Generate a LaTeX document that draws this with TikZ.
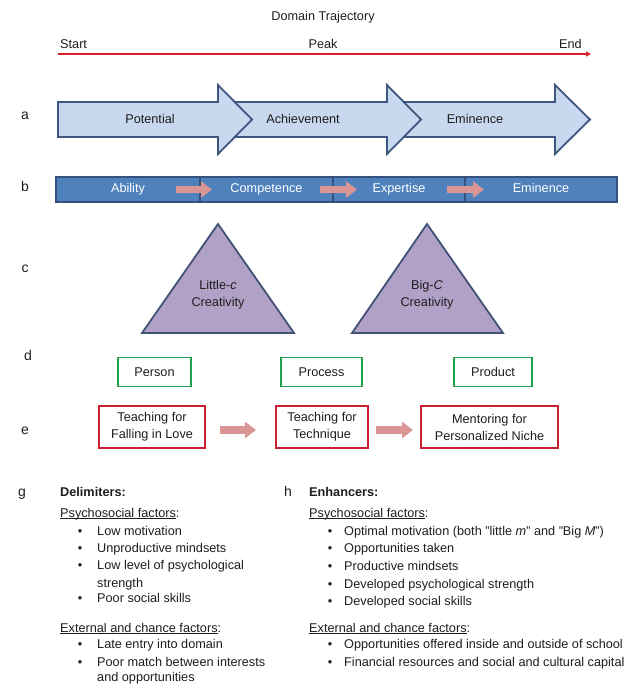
\documentclass[tikz,border=0pt]{standalone}
\usepackage{fontspec}
\setmainfont{Liberation Sans}
\usetikzlibrary{arrows.meta,calc}
\definecolor{txt}{RGB}{30,30,30}
\definecolor{redl}{RGB}{214,32,45}
\definecolor{afill}{RGB}{199,216,239}
\definecolor{aborder}{RGB}{62,86,128}
\definecolor{bfill}{RGB}{79,129,189}
\definecolor{bborder}{RGB}{52,82,125}
\definecolor{pinkar}{RGB}{217,150,148}
\definecolor{trifill}{RGB}{178,161,199}
\definecolor{triborder}{RGB}{66,82,118}
\definecolor{greenb}{RGB}{30,160,80}
\definecolor{redb}{RGB}{200,32,48}
\newcommand\myul[1]{\setbox0\hbox{#1}\rlap{\rule[-1.8pt]{\wd0}{0.7pt}}\box0}
\tikzset{
  lbl/.style={font=\fontsize{14}{16}\selectfont, text=txt},
  arrowa/.style={draw=aborder, fill=afill, line width=1.8pt, line join=miter},
  bseg/.style={draw=bborder, fill=bfill, line width=1.5pt, minimum height=25pt, text=white, text height=9pt, text depth=3pt},
  blockar/.style={draw=pinkar, line width=7.5pt, -{Triangle[length=11pt,width=16pt]}},
  tri/.style={draw=triborder, fill=trifill, line width=1.8pt, line join=miter},
  gbox/.style={draw=greenb, line width=1.5pt, minimum height=29pt},
  rbox/.style={draw=redb, line width=2pt, minimum height=42pt, align=center},
  redline/.style={draw=redl, line width=2.5pt, -{Triangle[length=5pt,width=5pt]}},
  item/.style={anchor=base west},
  bul/.style={anchor=base}
}
\begin{document}
\begin{tikzpicture}[x=1pt,y=-1pt, every node/.style={font=\fontsize{12.7}{17}\selectfont, text=txt, inner sep=0pt}]
\useasboundingbox[fill=white] (0,0) rectangle (641,694);

% header
\node (title) at (323,17) {Domain Trajectory};
\node[anchor=west] (start) at (60,44) {Start};
\node (peak) at (323,44) {Peak};
\node[anchor=east] (end) at (582,44) {End};
\coordinate (rl0) at (58,54);
\coordinate (rl1) at (591,54);
\draw[redline] (rl0) -- (rl1);

% row a
\node[lbl] (la) at (25,116) {a};
\foreach \l/\b/\t in {370/555/590, 200/387/421, 58/218/252}
  \draw[arrowa] (\l,102) -- (\b,102) -- (\b,85) -- (\t,119.5) -- (\b,154) -- (\b,137) -- (\l,137) -- cycle;
\node (a1) at (150,119) {Potential};
\node (a2) at (303,119) {Achievement};
\node (a3) at (475,119) {Eminence};

% row b
\node[lbl] (lb) at (25,186) {b};
\node[bseg, minimum width=144pt] (b1) at (128,189.5) {Ability};
\node[bseg, minimum width=133pt] (b2) at (266.5,189.5) {Competence};
\node[bseg, minimum width=132pt] (b3) at (399,189.5) {Expertise};
\node[bseg, minimum width=152pt] (b4) at (541,189.5) {Eminence};
\coordinate (pb1s) at (176,189.5); \coordinate (pb1e) at (212,189.5);
\coordinate (pb2s) at (320,189.5); \coordinate (pb2e) at (357,189.5);
\coordinate (pb3s) at (447,189.5); \coordinate (pb3e) at (484,189.5);
\draw[blockar] (pb1s) -- (pb1e);
\draw[blockar] (pb2s) -- (pb2e);
\draw[blockar] (pb3s) -- (pb3e);

% row c
\node[lbl] (lc) at (25,269) {c};
\draw[tri] (142,333) -- (218,224) -- (294,333) -- cycle;
\draw[tri] (352,333) -- (427,224) -- (503,333) -- cycle;
\node[align=center] (c1) at (218,295) {Little-\textit{c}\\Creativity};
\node[align=center] (c2) at (427,295) {Big-\textit{C}\\Creativity};

% row d
\node[lbl] (ld) at (28,355) {d};
\node[gbox, minimum width=73pt] (d1) at (154.5,372) {Person};
\node[gbox, minimum width=81pt] (d2) at (321.5,372) {Process};
\node[gbox, minimum width=78pt] (d3) at (493,372) {Product};

% row e
\node[lbl] (le) at (25,431) {e};
\node[rbox, minimum width=106pt] (e1) at (152,427) {Teaching for\\Falling in Love};
\node[rbox, minimum width=92pt] (e2) at (322,427) {Teaching for\\Technique};
\node[rbox, minimum width=137pt] (e3) at (489.5,427) {Mentoring for\\Personalized Niche};
\coordinate (pe1s) at (220,430); \coordinate (pe1e) at (256,430);
\coordinate (pe2s) at (376,430); \coordinate (pe2e) at (413,430);
\draw[blockar] (pe1s) -- (pe1e);
\draw[blockar] (pe2s) -- (pe2e);

% g column
\node[lbl, anchor=base west] (lg) at (18,496) {g};
\node[item] (gh) at (60,496) {\textbf{Delimiters:}};
\node[item] (gp) at (60,517) {\myul{Psychosocial factors}:};
\foreach \y [count=\i] in {535, 552, 569, 602} {
  \node[bul] (gpb\i) at (80,\y) {\textbullet};
}
\node[item] (gp1) at (97,535) {Low motivation};
\node[item] (gp2) at (97,552) {Unproductive mindsets};
\node[item] (gp3) at (97,569) {Low level of psychological};
\node[item] (gp3b) at (97,587) {strength};
\node[item] (gp4) at (97,602) {Poor social skills};
\node[item] (ge) at (60,632) {\myul{External and chance factors}:};
\node[bul] (geb1) at (80,648) {\textbullet};
\node[bul] (geb2) at (80,666) {\textbullet};
\node[item] (ge1) at (97,648) {Late entry into domain};
\node[item] (ge2) at (97,666) {Poor match between interests};
\node[item] (ge2b) at (97,681) {and opportunities};

% h column
\node[lbl, anchor=base west] (lh) at (284,496) {h};
\node[item] (hh) at (309,496) {\textbf{Enhancers:}};
\node[item] (hp) at (309,517) {\myul{Psychosocial factors}:};
\foreach \y/\t [count=\i] in {535/Optimal motivation (both "little \textit{m}" and "Big \textit{M}"), 552/Opportunities taken, 570/Productive mindsets, 588/Developed  psychological strength, 605/Developed social skills} {
  \node[bul] (hpb\i) at (330,\y) {\textbullet};
  \node[item] (hp\i) at (344,\y) {\t};
}
\node[item] (he) at (309,632) {\myul{External and chance factors}:};
\foreach \y/\t [count=\i] in {648/Opportunities offered inside and outside of school, 666/Financial resources and social and cultural capital} {
  \node[bul] (heb\i) at (330,\y) {\textbullet};
  \node[item] (he\i) at (344,\y) {\t};
}
\end{tikzpicture}
\end{document}
